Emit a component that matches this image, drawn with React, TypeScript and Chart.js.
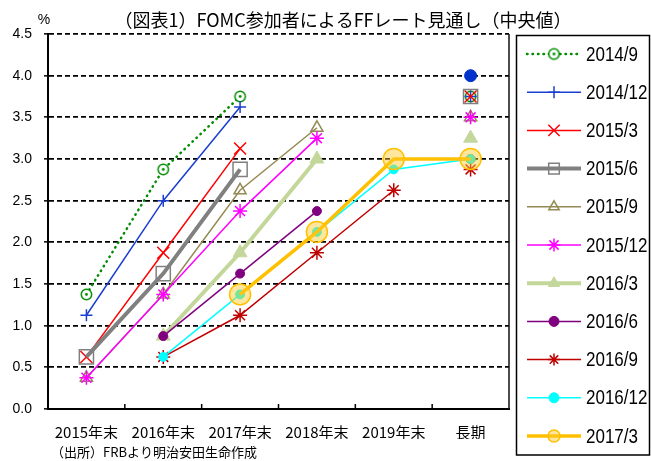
import React, { useEffect, useRef } from 'react';
import { Chart, registerables } from 'chart.js';
import { drawPoint } from 'chart.js/helpers';

Chart.register(...registerables);

// ---- data ----
const categories = ['2015年末', '2016年末', '2017年末', '2018年末', '2019年末', '長期'];
const seriesLabels = ['2014/9', '2014/12', '2015/3', '2015/6', '2015/9', '2015/12', '2016/3', '2016/6', '2016/9', '2016/12', '2017/3'];

const v2014_9 = [1.375, 2.875, 3.75, null, null, 3.75];
const v2014_12 = [1.125, 2.5, 3.625, null, null, 3.75];
const v2015_3 = [0.625, 1.875, 3.125, null, null, 3.75];
const v2015_6 = [0.625, 1.625, 2.875, null, null, 3.75];
const v2015_9 = [0.375, 1.375, 2.625, 3.375, null, 3.5];
const v2015_12 = [0.375, 1.375, 2.375, 3.25, null, 3.5];
const v2016_3 = [null, 0.875, 1.875, 3.0, null, 3.25];
const v2016_6 = [null, 0.875, 1.625, 2.375, null, 3.0];
const v2016_9 = [null, 0.625, 1.125, 1.875, 2.625, 2.875];
const v2016_12 = [null, 0.625, 1.375, 2.125, 2.875, 3.0];
const v2017_3 = [null, null, 1.375, 2.125, 3.0, 3.0];
const vExtraLongRun = [null, null, null, null, null, 4.0];

const seriesValues = [v2014_9, v2014_12, v2015_3, v2015_6, v2015_9, v2015_12, v2016_3, v2016_6, v2016_9, v2016_12, v2017_3];

const yMin = 0;
const yMax = 4.5;
const yStep = 0.5;

const titleText = '（図表1）FOMC参加者によるFFレート見通し（中央値）';
const unitText = '%';
const sourceText = '（出所）FRBより明治安田生命作成';

// ---- styles ----
type Sty = {
  color: string; width: number; dash?: number[]; cap?: CanvasLineCap;
  style: any; radius: number; fill: string; pbw: number; legendRadius: number; hideLongLink?: boolean;
};
const styles: Sty[] = [
  { color: '#008c00', width: 2.5, dash: [0.5, 5], cap: 'round', style: 'circleDot', radius: 6, fill: '#ffffff', pbw: 1.5, legendRadius: 6 },
  { color: '#1a3fd0', width: 1.5, style: 'cross', radius: 6, fill: 'transparent', pbw: 1.5, legendRadius: 6 },
  { color: '#ff0000', width: 1.5, style: 'crossRot', radius: 8.5, fill: 'transparent', pbw: 1.5, legendRadius: 8 },
  { color: '#808080', width: 4, style: 'rect', radius: 10, fill: 'transparent', pbw: 1.5, legendRadius: 7.5 },
  { color: '#948a54', width: 1.5, style: 'triangle', radius: 7, fill: 'transparent', pbw: 1.5, legendRadius: 6 },
  { color: '#ff00ff', width: 1.5, style: 'star', radius: 7, fill: 'transparent', pbw: 1.5, legendRadius: 6.5 },
  { color: '#c4d79b', width: 4, style: 'triangle', radius: 8, fill: '#c4d79b', pbw: 1, legendRadius: 6.5 },
  { color: '#800080', width: 1.5, style: 'circle', radius: 4.5, fill: '#800080', pbw: 1, legendRadius: 5 },
  { color: '#c00000', width: 1.5, style: 'star', radius: 7, fill: 'transparent', pbw: 1.5, legendRadius: 6, hideLongLink: true },
  { color: '#00ffff', width: 1.5, style: 'circle', radius: 4.5, fill: '#00ffff', pbw: 1, legendRadius: 5 },
  { color: '#ffc000', width: 3.5, style: 'circle', radius: 10.5, fill: 'rgba(255,200,40,0.45)', pbw: 1.5, legendRadius: 6 },
];

function makeCircleDot(color: string) {
  const c = document.createElement('canvas');
  c.width = 15; c.height = 15;
  const g = c.getContext('2d')!;
  g.fillStyle = '#ffffff';
  g.beginPath(); g.arc(7.5, 7.5, 5.2, 0, Math.PI * 2); g.fill();
  g.strokeStyle = color; g.lineWidth = 1.5;
  g.beginPath(); g.arc(7.5, 7.5, 5.2, 0, Math.PI * 2); g.stroke();
  g.fillStyle = color;
  g.beginPath(); g.arc(7.5, 7.5, 1.4, 0, Math.PI * 2); g.fill();
  return c;
}

const decorPlugin = {
  id: 'decor',
  beforeDatasetsDraw(chart: any) {
    const { ctx, chartArea } = chart;
    const { right, top, bottom } = chartArea;
    ctx.save();
    ctx.strokeStyle = '#111';
    ctx.lineWidth = 1.5;
    ctx.beginPath(); ctx.moveTo(right, top); ctx.lineTo(right, bottom); ctx.stroke();
    const xs = chart.scales.x;
    ctx.strokeStyle = '#000';
    ctx.lineWidth = 1.5;
    for (let i = 0; i < categories.length - 1; i++) {
      const x = (xs.getPixelForValue(i) + xs.getPixelForValue(i + 1)) / 2;
      ctx.beginPath(); ctx.moveTo(x, bottom); ctx.lineTo(x, bottom - 5); ctx.stroke();
    }
    ctx.restore();
  },
  afterDraw(chart: any) {
    const { ctx } = chart;
    ctx.save();
    ctx.fillStyle = '#000';
    ctx.textBaseline = 'middle';
    ctx.textAlign = 'center';
    ctx.font = '18px "Noto Sans CJK JP", sans-serif';
    ctx.fillText(titleText, 343, 20);
    ctx.font = '14px "Liberation Sans", Arial, sans-serif';
    ctx.fillText(unitText, 44, 20);
    ctx.textAlign = 'left';
    ctx.font = '13px "Noto Sans CJK JP", sans-serif';
    ctx.fillText(sourceText, 51, 452);
    // legend box
    ctx.strokeStyle = '#000';
    ctx.lineWidth = 1.5;
    ctx.strokeRect(516.5, 35.5, 133, 419.5);
    seriesLabels.forEach((label, i) => {
      const ds = chart.data.datasets[i];
      const s = styles[i];
      const y = 54 + i * 38.2;
      ctx.save();
      ctx.beginPath();
      ctx.setLineDash(s.dash || []);
      ctx.lineCap = s.cap || 'butt';
      ctx.strokeStyle = s.color;
      ctx.lineWidth = s.width;
      ctx.moveTo(527, y); ctx.lineTo(581, y); ctx.stroke();
      ctx.setLineDash([]);
      ctx.lineCap = 'butt';
      ctx.fillStyle = s.fill;
      ctx.strokeStyle = s.color;
      ctx.lineWidth = s.pbw;
      drawPoint(ctx, { pointStyle: ds.pointStyle, radius: s.legendRadius, borderWidth: s.pbw, rotation: 0 } as any, 554, y);
      ctx.restore();
      ctx.save();
      ctx.fillStyle = '#000';
      ctx.textAlign = 'left';
      ctx.textBaseline = 'middle';
      ctx.font = '20px "Liberation Sans", Arial, sans-serif';
      ctx.translate(586, y + 1);
      ctx.scale(0.85, 1);
      ctx.fillText(label, 0, 0);
      ctx.restore();
    });
    ctx.restore();
  },
};

export default function App() {
  const ref = useRef<HTMLCanvasElement | null>(null);
  useEffect(() => {
    if (!ref.current) return;
    const circleDot = makeCircleDot(styles[0].color);
    const datasets: any[] = seriesLabels.map((label, i) => {
      const s = styles[i];
      const ps = s.style === 'circleDot' ? circleDot : s.style;
      return {
        label,
        data: seriesValues[i],
        borderColor: s.color,
        backgroundColor: s.color,
        borderWidth: s.width,
        borderDash: s.dash || [],
        borderCapStyle: s.cap || 'butt',
        pointStyle: ps,
        pointRadius: s.radius,
        pointHoverRadius: s.radius,
        pointBackgroundColor: s.fill,
        pointBorderColor: s.color,
        pointBorderWidth: s.pbw,
        fill: false,
        tension: 0,
        order: -i,
        segment: s.hideLongLink
          ? { borderColor: (c: any) => (c.p1DataIndex === categories.length - 1 ? 'rgba(0,0,0,0)' : undefined) }
          : undefined,
      };
    });
    datasets.push({
      label: 'extra',
      data: vExtraLongRun,
      showLine: false,
      borderColor: '#0033cc',
      backgroundColor: '#0033cc',
      pointStyle: 'circle',
      pointRadius: 6,
      pointBackgroundColor: '#0033cc',
      pointBorderColor: '#0033cc',
      pointBorderWidth: 1,
      order: 1,
    });
    const chart = new Chart(ref.current, {
      type: 'line',
      data: { labels: categories, datasets },
      options: {
        animation: false,
        responsive: true,
        maintainAspectRatio: false,
        layout: { padding: { left: 0, top: 34, right: 142, bottom: 22 } },
        plugins: { legend: { display: false }, title: { display: false }, tooltip: { enabled: false } },
        scales: {
          x: {
            type: 'category',
            offset: true,
            grid: { display: false, drawTicks: false, offset: true },
            border: { display: true, color: '#000', width: 2 },
            ticks: { color: '#000', padding: 14, maxRotation: 0, autoSkip: false, font: { family: '"Noto Sans CJK JP", sans-serif', size: 15 } },
            afterFit: (s: any) => { s.height = 30; },
          },
          y: {
            min: yMin,
            max: yMax,
            grid: {
              color: (c: any) => (c.tick && c.tick.value === 0 ? 'rgba(0,0,0,0)' : '#000'),
              lineWidth: 1.7,
              drawTicks: true,
              tickLength: 4,
              tickColor: '#000',
              tickWidth: 1.5,
            },
            border: { display: true, color: '#000', width: 2, dash: [5, 3] },
            ticks: {
              stepSize: yStep,
              color: '#000',
              padding: 12,
              font: { family: '"Liberation Sans", Arial, sans-serif', size: 14 },
              callback: (v: any) => Number(v).toFixed(1),
            },
            afterFit: (s: any) => { s.width = 48; },
          },
        },
      },
      plugins: [decorPlugin],
    });
    return () => chart.destroy();
  }, []);
  return (
    <div style={{ position: 'absolute', left: 0, top: 0, width: 651, height: 461, background: '#fff' }}>
      <canvas ref={ref} />
    </div>
  );
}
